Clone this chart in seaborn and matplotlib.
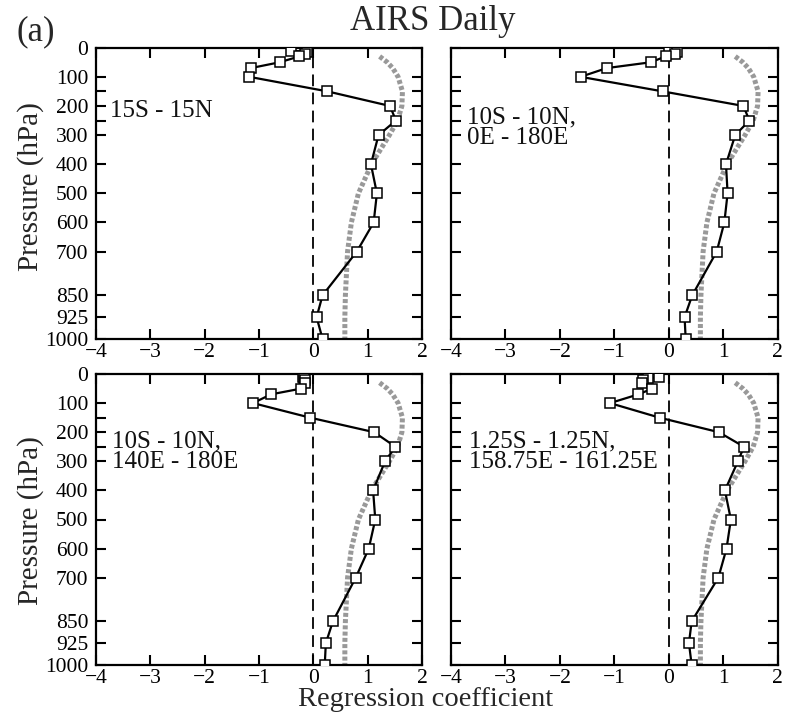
import numpy as np
import pandas as pd
import matplotlib
matplotlib.use("Agg")
import matplotlib.pyplot as plt
import seaborn as sns

# ---------------- data ----------------
pressure = [10, 15, 20, 30, 50, 70, 100, 150, 200, 250, 300, 400, 500, 600, 700, 850, 925, 1000]

coef_15S15N = [-0.41, -0.12, -0.15, -0.26, -0.62, -1.15, -1.18, 0.26, 1.41, 1.52, 1.20, 1.06, 1.17, 1.11, 0.80, 0.17, 0.06, 0.17]
coef_10S10N_0E180E = [0.00, 0.15, 0.12, -0.06, -0.33, -1.14, -1.62, -0.11, 1.37, 1.48, 1.22, 1.05, 1.08, 1.02, 0.88, 0.43, 0.29, 0.31]
coef_10S10N_140E180E = [-0.19, -0.17, -0.16, -0.16, -0.22, -0.78, -1.11, -0.06, 1.12, 1.51, 1.32, 1.10, 1.14, 1.02, 0.78, 0.36, 0.23, 0.21]
coef_1p25S1p25N = [-0.18, -0.38, -0.47, -0.50, -0.30, -0.56, -1.08, -0.17, 0.92, 1.38, 1.27, 1.03, 1.14, 1.06, 0.91, 0.42, 0.37, 0.42]

ref_pressure = [30, 50, 70, 100, 150, 200, 250, 300, 400, 500, 600, 700, 850, 925, 1000]
ref_coef = [1.22, 1.36, 1.46, 1.56, 1.64, 1.63, 1.55, 1.40, 1.07, 0.83, 0.70, 0.63, 0.59, 0.58, 0.58]

region_labels = ["15S - 15N", "10S - 10N,\n0E - 180E", "10S - 10N,\n140E - 180E",
                 "1.25S - 1.25N,\n158.75E - 161.25E"]
label_pos = [(-3.75, 217), (-3.71, 275), (-3.71, 268), (-3.67, 268)]

ytick_vals = [0, 100, 150, 200, 250, 300, 400, 500, 600, 700, 850, 925, 1000]
ytick_text = ["0", "100", "", "200", "", "300", "400", "500", "600", "700", "850", "925", "1000"]
xtick_vals = [-4, -3, -2, -1, 0, 1, 2]

# ---------------- style ----------------
sns.set_theme(style="ticks")
plt.rcParams["font.family"] = ["Liberation Serif", "DejaVu Serif"]
plt.rcParams["axes.unicode_minus"] = True

fig = plt.figure(figsize=(7.86, 7.2), dpi=100)

W, H = 786, 720
boxes = [
    (96, 47.7, 422, 339),
    (451, 47.7, 777.7, 339),
    (96, 374, 422, 665),
    (451, 374, 777.7, 665),
]
series = [coef_15S15N, coef_10S10N_0E180E, coef_10S10N_140E180E, coef_1p25S1p25N]

ref_df = pd.DataFrame({"p": ref_pressure, "c": ref_coef})

for i, (box, vals) in enumerate(zip(boxes, series)):
    x0, y0, x1, y1 = box
    ax = fig.add_axes([x0 / W, 1 - y1 / H, (x1 - x0) / W, (y1 - y0) / H])
    df = pd.DataFrame({"p": pressure, "c": vals})

    ax.axvline(0, color="black", lw=1.3, linestyle=(0, (6.5, 3.5)), zorder=1)
    sns.lineplot(data=ref_df, x="c", y="p", sort=False, estimator=None, ax=ax,
                 color="#999999", lw=3.6, linestyle=(0, (0.8, 0.45)), zorder=2)
    sns.lineplot(data=df, x="c", y="p", sort=False, estimator=None, ax=ax,
                 color="black", lw=1.6, marker="s", markersize=7,
                 markerfacecolor="white", markeredgecolor="black",
                 markeredgewidth=1.1, zorder=3)

    ax.set_xlim(-4, 2)
    ax.set_ylim(1000, 0)
    ax.set_xticks(xtick_vals)
    ax.set_yticks(ytick_vals)
    ax.tick_params(direction="in", length=7, width=1.5, top=True, right=True,
                   labelsize=15.5, colors="black")
    ax.tick_params(axis="y", pad=5.5)
    ax.tick_params(axis="x", pad=3)
    ax.set_xticklabels([f"{v}".replace("-", "\u2212") for v in xtick_vals])
    if i % 2 == 0:
        ax.set_yticklabels(ytick_text)
    else:
        ax.set_yticklabels([])
    ax.set_xlabel("")
    ax.set_ylabel("")
    for s in ax.spines.values():
        s.set_linewidth(1.6)
        s.set_color("black")
    tx, ty = label_pos[i]
    ax.text(tx, ty, region_labels[i], fontsize=18, ha="left", va="center",
            linespacing=0.9, color="#111111")

fig.text(433 / W, 1 - 22 / H, "AIRS Daily", fontsize=25, ha="center", va="center")
fig.text(17 / W, 1 - 32 / H, "(a)", fontsize=25, ha="left", va="center")
fig.text(31 / W, 1 - 187 / H, "Pressure (hPa)", fontsize=21, rotation=90,
         ha="center", va="center")
fig.text(31 / W, 1 - 521 / H, "Pressure (hPa)", fontsize=21, rotation=90,
         ha="center", va="center")
fig.text(426 / W, 1 - 700 / H, "Regression coefficient", fontsize=20.5,
         ha="center", va="center")

fig.savefig("out.png", dpi=100, facecolor="white")
